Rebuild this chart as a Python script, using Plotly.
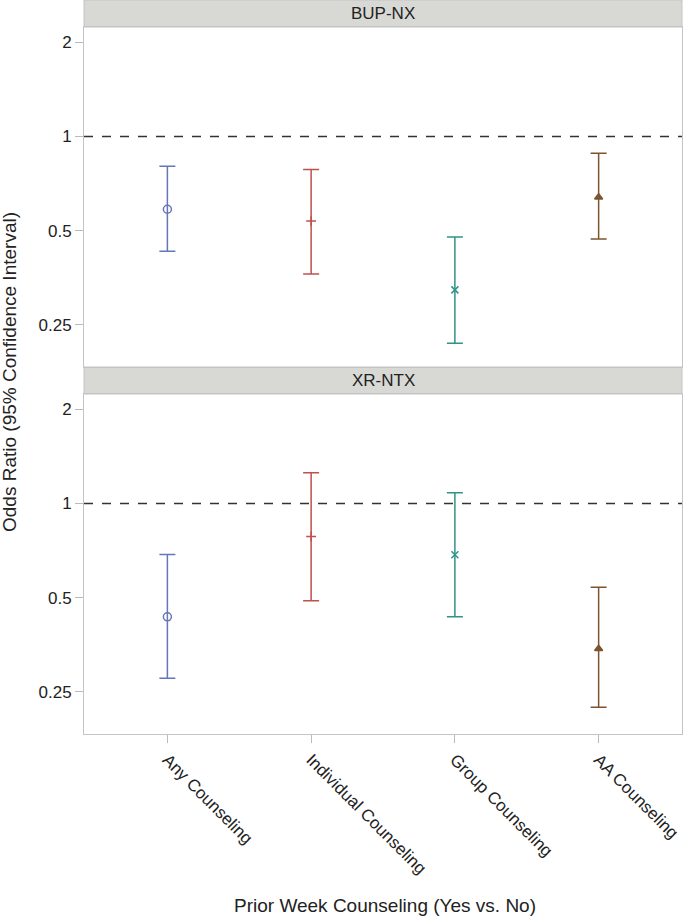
import plotly.graph_objects as go
from plotly.subplots import make_subplots
import math

categories = ["Any Counseling", "Individual Counseling", "Group Counseling", "AA Counseling"]
panels = ["BUP-NX", "XR-NTX"]

bup_or = [0.585, 0.536, 0.323, 0.639]
bup_lo = [0.429, 0.363, 0.218, 0.470]
bup_hi = [0.803, 0.784, 0.477, 0.884]

xr_or = [0.434, 0.784, 0.685, 0.343]
xr_lo = [0.276, 0.488, 0.434, 0.223]
xr_hi = [0.687, 1.254, 1.082, 0.539]

colors = ["#6676b8", "#c0504d", "#2e9486", "#7a5530"]
symbols = ["circle-open", "cross-thin-open", "x-thin-open", "triangle-up"]
sizes = [8, 7, 7, 7]

yticks = [0.25, 0.5, 1, 2]
yticktext = ["0.25", "0.5", "1", "2"]

FONT = "Liberation Sans, Arial"
W, H = 683, 924
ml, mr, mt, mb = 84, 1, 0, 190
ph = H - mt - mb  # 734

def py(pix):
    return (ph - pix) / ph

fig = make_subplots(rows=2, cols=1, shared_xaxes=True, vertical_spacing=0.02)

data = [(bup_or, bup_lo, bup_hi), (xr_or, xr_lo, xr_hi)]
for r, (orv, lo, hi) in enumerate(data, start=1):
    for i, cat in enumerate(categories):
        fig.add_trace(go.Scatter(
            x=[cat], y=[orv[i]], mode="markers",
            marker=dict(symbol=symbols[i], size=sizes[i], color=colors[i],
                        line=dict(color=colors[i], width=1.5)),
            error_y=dict(type="data", symmetric=False,
                         array=[hi[i] - orv[i]], arrayminus=[orv[i] - lo[i]],
                         color=colors[i], thickness=1.5, width=8),
            showlegend=False), row=r, col=1)
    fig.add_shape(type="line", xref=f"x{'' if r == 1 else r} domain", yref=f"y{'' if r == 1 else r}",
                  x0=0, x1=1, y0=1, y1=1, line=dict(color="#333333", width=1.5, dash="dash"))

yrange = [math.log10(0.183), math.log10(2.24)]
dom_top = [py(367), py(27)]
dom_bot = [py(734), py(394)]

axis_common = dict(showline=True, mirror=True, linecolor="#c4c4c4", linewidth=1,
                   showgrid=False, zeroline=False)
for r, dom in [(1, dom_top), (2, dom_bot)]:
    fig.update_yaxes(type="log", range=yrange, domain=dom, tickvals=yticks, ticktext=yticktext,
                     ticks="outside", ticklen=8, tickcolor="#bbbbbb",
                     tickfont=dict(family=FONT, size=17, color="#222222"),
                     row=r, col=1, **axis_common)
    fig.update_xaxes(type="category", categoryorder="array", categoryarray=categories,
                     range=[-0.58, 3.58], row=r, col=1, **axis_common)

fig.update_xaxes(ticks="outside", ticklen=8, tickcolor="#bbbbbb", tickangle=45,
                 tickfont=dict(family=FONT, size=17, color="#222222"),
                 row=2, col=1)
fig.update_xaxes(showticklabels=False, ticks="", row=1, col=1)

# Panel headers
for name, (top_pix, bot_pix) in zip(panels, [(0, 27), (367, 394)]):
    fig.add_shape(type="rect", xref="paper", yref="paper", x0=0, x1=1,
                  y0=py(bot_pix), y1=py(top_pix),
                  fillcolor="#d8d9d4", line=dict(color="#c4c4c4", width=1), layer="below")
    fig.add_annotation(xref="paper", yref="paper", x=0.5, y=(py(bot_pix) + py(top_pix)) / 2,
                       text=name, showarrow=False, xanchor="center", yanchor="middle",
                       font=dict(family=FONT, size=17, color="#222222"))

fig.add_annotation(xref="paper", yref="paper", x=(10 - ml) / (W - ml - mr), y=py(372),
                   text="Odds Ratio (95% Confidence Interval)", textangle=-90, showarrow=False,
                   xanchor="center", yanchor="middle",
                   font=dict(family=FONT, size=19, color="#222222"))
fig.add_annotation(xref="paper", yref="paper", x=(385 - ml) / (W - ml - mr), y=py(905),
                   text="Prior Week Counseling (Yes vs. No)", showarrow=False,
                   xanchor="center", yanchor="middle",
                   font=dict(family=FONT, size=19, color="#222222"))

fig.update_layout(width=W, height=H, margin=dict(l=ml, r=mr, t=mt, b=mb),
                  plot_bgcolor="white", paper_bgcolor="white", showlegend=False)

fig.write_html("out.html", config={"displayModeBar": False},
               post_script="document.body.style.margin='0';")
